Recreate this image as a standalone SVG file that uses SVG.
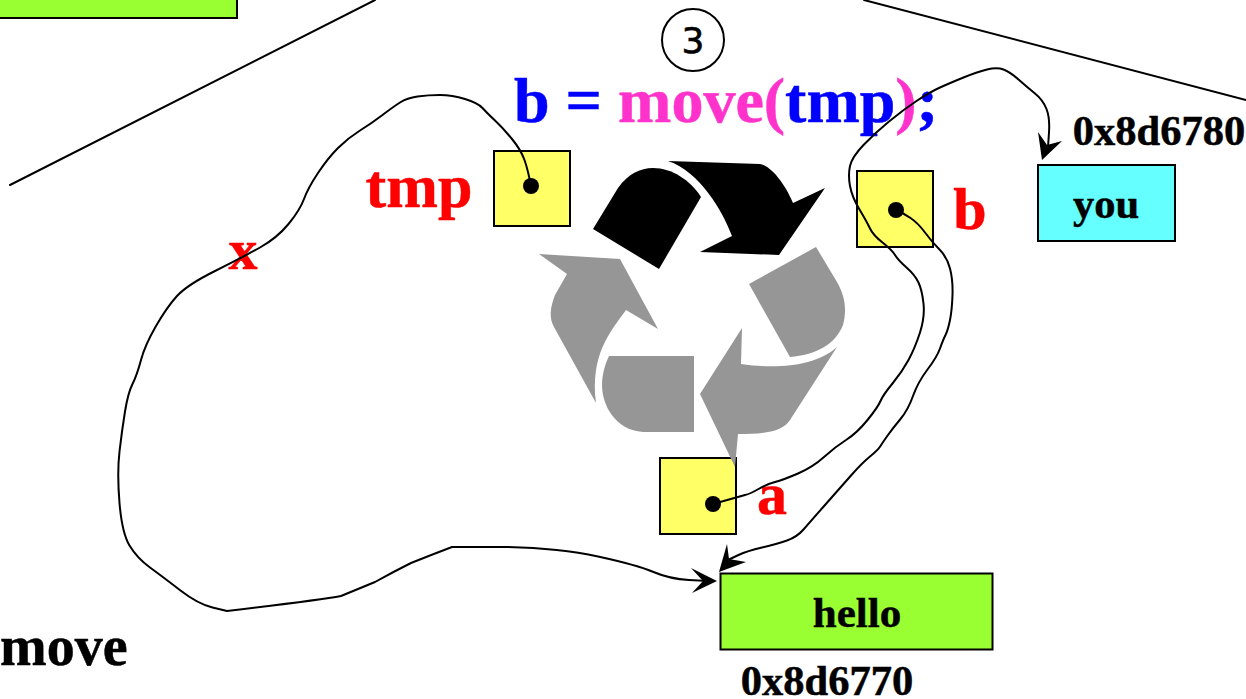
<svg xmlns="http://www.w3.org/2000/svg" width="1246" height="699" viewBox="0 0 1246 699">
<style>
text{font-family:"Liberation Serif","Times New Roman",serif;font-weight:bold;stroke-width:.5}
.box{stroke:#000;stroke-width:2}
.y{fill:#ffff66}.g{fill:#99ff33}.c{fill:#66ffff}
.w{fill:none;stroke:#000;stroke-width:2;stroke-linejoin:round;stroke-linecap:round}
.k{fill:#000;stroke:#000}.r{fill:#f00;stroke:#f00}.b{fill:#00f;stroke:#00f}.m{fill:#ff33cc;stroke:#ff33cc}
.gr{fill:#969696}
.h{fill:#000}
</style>
<rect width="1246" height="699" fill="#fff"/>
<g id="top-left-box"><rect class="box g" x="-10" y="-20" width="247" height="38"/></g>
<g id="frame-lines"><path class="w" d="M10 185L375 0M864 0L1246 100"/></g>
<g id="tmp"><rect class="box y" x="494" y="151" width="76" height="75"/><text class="r" x="419" y="207" font-size="62" text-anchor="middle">tmp</text></g>
<g id="b"><rect class="box y" x="857" y="171" width="76" height="76"/><text class="r" x="970" y="229" font-size="60" text-anchor="middle">b</text></g>
<g id="a"><rect class="box y" x="660" y="458" width="76" height="76"/><text class="r" x="772" y="514" font-size="60" text-anchor="middle">a</text></g>
<g id="you"><rect class="box c" x="1038" y="165" width="137" height="76"/><text class="k" x="1106" y="218" font-size="42.500" text-anchor="middle">you</text><text class="k" x="1159" y="145" font-size="42.500" text-anchor="middle">0x8d6780</text></g>
<g id="hello"><rect class="box g" x="720.500" y="573.500" width="272" height="76"/><text class="k" x="857" y="627" font-size="43" text-anchor="middle">hello</text><text class="k" x="827" y="695" font-size="42.500" text-anchor="middle">0x8d6770</text></g>
<g id="recycle">
<path class="h" d="M593 229L618 188C628 174 640 168 653 168C672 168 690 180 701 197L659 269Z"/>
<path class="h" d="M668 161L760 164C770 165 785 183 793 203L825 188L779 255L700 252L732 236C722 210 700 172 668 161Z"/>
<path class="gr" d="M816 247L837 282C845 296 847 310 843 325C835 345 815 355 790 357L749 284Z"/>
<path class="gr" d="M742 328L741 364C775 369 815 367 837 347L790 420C782 433 760 434 738 434L735 467L700 394Z"/>
<path class="gr" d="M609 356H694V432H643C615 430 602 405 602 385C602 375 605 364 609 356Z"/>
<path class="gr" d="M539 254L620 259L658 329L626 310C610 332 590 355 596 403L554 327C549 318 550 308 555 295L567 274Z"/>
</g>
<g id="step"><circle cx="693" cy="40" r="31" fill="#fff" stroke="#000" stroke-width="2"/><text x="693" y="53" font-size="36" text-anchor="middle" stroke="#000" style="font-family:'DejaVu Sans',sans-serif;font-weight:normal;stroke-width:.6">3</text></g>
<g id="labels">
<text x="514" y="122" font-size="64"><tspan class="b">b = </tspan><tspan class="m">move(</tspan><tspan class="b">tmp</tspan><tspan class="m">)</tspan><tspan class="b">;</tspan></text>
<text class="r" x="243" y="269" font-size="58" text-anchor="middle">x</text>
<text class="k" x="0" y="665" font-size="56">move</text>
</g>
<g id="connectors">
<path class="w" d="M531 186Q528 170 524.500 160Q521 150 512 139Q503 128 495 120.500Q487 113 482.500 108Q478 103 465 99Q452 95 440 95Q428 95 417.500 96.500Q407 98 400 102.500Q393 107 382.500 115Q372 123 360 130.500Q348 138 338 148Q328 158 318 173Q308 188 304 199Q300 210 288.500 224Q277 238 260 247.500Q243 257 215 271Q187 285 177 296Q167 307 156 326Q145 345 141 360Q137 375 132.500 384Q128 393 125 411.500Q122 430 119.500 451.500Q117 473 119.500 503Q122 533 129.500 545.500Q137 558 150 567.500Q163 577 180.500 590.500Q198 604 212.500 607.500L227 611Q320 600 341 596Q358 589 375 582Q393 572 411 563Q431 555 452 547L505 547Q559 548 598 556.500Q637 565 653.500 572Q670 579 689 580L708 581"/>
<path class="h" d="M717 581L691 568L703 581L692 593Z"/>
<path class="w" d="M896 210Q903 213 910.500 218Q918 223 925 232.500Q932 242 939.500 249.500Q947 257 950 268.500Q953 280 952.500 295Q952 310 950 320Q948 330 945.500 335Q943 340 940 348.500Q937 357 927.500 369.500Q918 382 913 396Q908 410 900.500 419Q893 428 888 435Q883 442 880.500 446Q878 450 870 456.500Q862 463 851 475.500Q840 488 825 505Q810 522 803.500 529.500Q797 537 787 540.500Q777 544 762 547.500Q747 551 738.500 555L730 559"/>
<path class="h" d="M719 572L727 544L729 559L746 562Z"/>
<path class="w" d="M713 504L745 495Q750 494 758.500 489Q767 484 775 482Q783 480 798 473.500Q813 467 824 457Q835 447 846 440Q857 433 867.500 420Q878 407 880.500 401Q883 395 892.500 383.500Q902 372 908.500 360Q915 348 920 332.500Q925 317 923.500 303.500Q922 290 918.500 282.500Q915 275 906.500 267.500Q898 260 895 255Q892 250 882.500 242.500Q873 235 870 228.500Q867 222 859.500 209.500Q852 197 850 186Q848 175 850 166Q852 157 863.500 145Q875 133 889 121.500Q903 110 916.500 101Q930 92 940 87.500Q950 83 963.500 77.500Q977 72 987 69.500Q997 67 1003.500 69.500Q1010 72 1018.500 79.500Q1027 87 1035 93.500Q1043 100 1046.500 109Q1050 118 1049 132.500L1048 147"/>
<path class="h" d="M1042 160L1038 132L1047 145L1062 141Z"/>
<circle class="h" cx="531" cy="186" r="8"/>
<circle class="h" cx="896" cy="210" r="8"/>
<circle class="h" cx="713" cy="504" r="8"/>
</g>
</svg>
